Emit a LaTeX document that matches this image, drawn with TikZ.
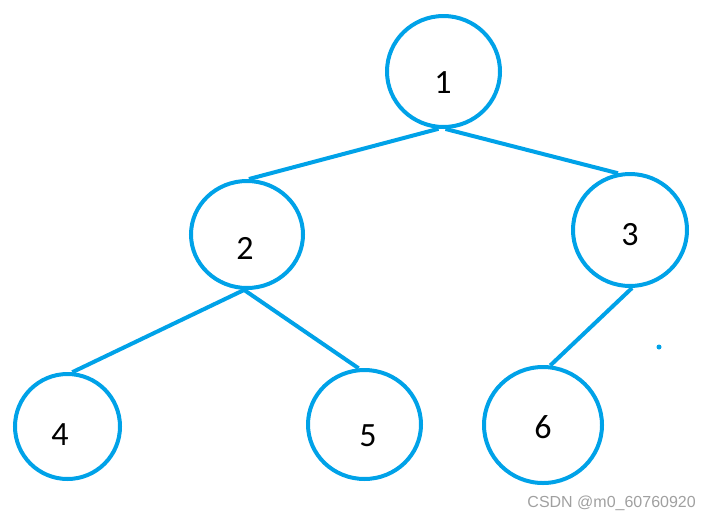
\documentclass[tikz,border=0pt]{standalone}
\usepackage{fontspec}
\setmainfont{Carlito}
\newfontfamily\wmfont{Liberation Sans}
\usetikzlibrary{shapes.geometric}
\definecolor{paintblue}{RGB}{0,162,232}
\definecolor{wmgray}{RGB}{160,160,160}
\tikzset{
  treenode/.style={draw=paintblue, line width=4pt, ellipse, inner sep=0pt},
  lab/.style={font=\fontsize{34}{34}\selectfont, text=black, inner sep=0pt},
  edge/.style={draw=paintblue, line width=4pt}
}
\begin{document}
\begin{tikzpicture}[x=1pt,y=-1pt]
\useasboundingbox (0,0) rectangle (712,520);
\node[treenode, minimum width=113pt, minimum height=111pt] (n1) at (443.5,71.5) {};
\node[treenode, minimum width=112pt, minimum height=107pt] (n2) at (247,234.5) {};
\node[treenode, minimum width=114pt, minimum height=112pt] (n3) at (630,230) {};
\node[treenode, minimum width=105pt, minimum height=105pt] (n4) at (67.5,426.5) {};
\node[treenode, minimum width=113pt, minimum height=109pt] (n5) at (364.5,424.5) {};
\node[treenode, minimum width=118pt, minimum height=116pt] (n6) at (543,425) {};
\node[lab] (t1) at (443,83) {1};
\node[lab] (t2) at (245,248) {2};
\node[lab] (t3) at (630,235) {3};
\node[lab] (t4) at (60,435) {4};
\node[lab] (t5) at (368,436) {5};
\node[lab] (t6) at (543,427) {6};
\draw[edge] (n1.-95) -- (n2.88);
\draw[edge] (n1.-88) -- (n3.102);
\draw[edge] (n2.-93) -- (n4.85);
\draw[edge] (n2.-93) -- (n5.96);
\draw[edge] (n3.-88) -- (n6.83);
\fill[paintblue] (659,347) circle (2.5pt);
\node[font=\wmfont\fontsize{16}{16}\selectfont, text=wmgray, anchor=east, inner sep=0pt] (wm) at (696,503) {CSDN @m0\_60760920};
\end{tikzpicture}
\end{document}
